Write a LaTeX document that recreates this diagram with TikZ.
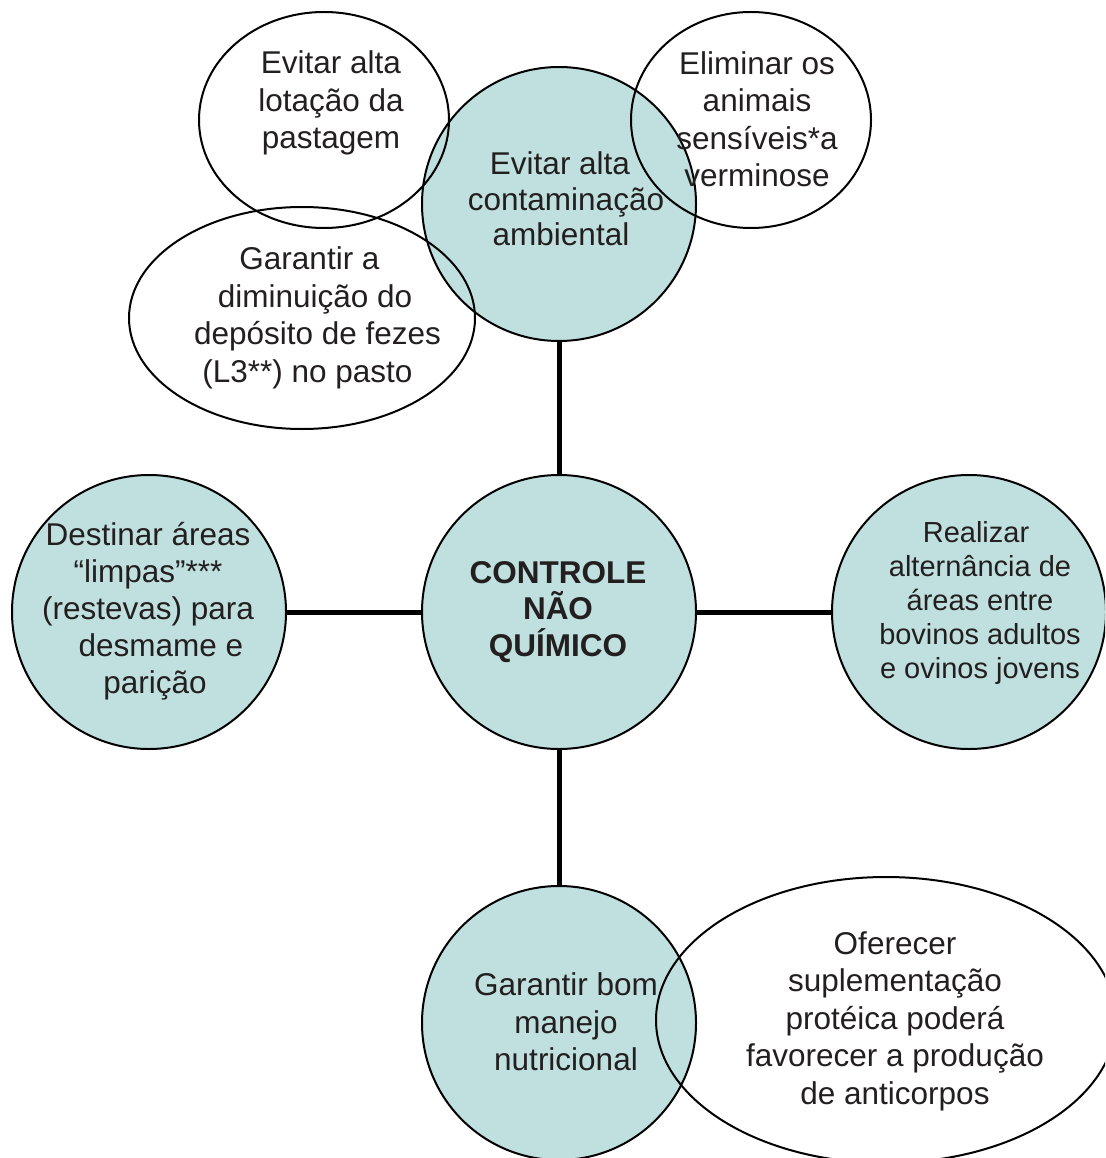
\documentclass[tikz,border=0pt]{standalone}
\usepackage{fontspec}
\setmainfont{Liberation Sans}
\usetikzlibrary{shapes.geometric}
\definecolor{tealfill}{RGB}{191,224,222}
\definecolor{ink}{RGB}{35,31,32}
\begin{document}
\begin{tikzpicture}[x=1pt,y=-1pt,
  disc/.style={circle,draw=black,line width=2pt,fill=tealfill,minimum size=274pt,inner sep=0pt},
  oval/.style={ellipse,draw=black,line width=2pt,inner sep=0pt},
  txt/.style={text=ink,align=center,font=\fontsize{31.5}{37.5}\selectfont,inner sep=0pt},
  smalltxt/.style={text=ink,align=center,font=\fontsize{29}{34}\selectfont,inner sep=0pt},
  link/.style={line width=5pt,draw=black}]
\useasboundingbox (0,0) rectangle (1105,1158);
\clip (0,0) rectangle (1105,1158);
% teal circles
\node[disc] (top) at (559,204) {};
\node[disc] (ctr) at (559,612) {};
\node[disc] (lft) at (149,612) {};
\node[disc] (rgt) at (969,612) {};
\node[disc] (bot) at (559,1023) {};
% connectors
\draw[link] (top) -- (ctr);
\draw[link] (ctr) -- (bot);
\draw[link] (lft) -- (ctr);
\draw[link] (ctr) -- (rgt);
% white ellipses
\node[oval,minimum width=250pt,minimum height=216pt] (lot) at (324,120) {};
\node[oval,minimum width=240pt,minimum height=216pt] (eli) at (751,120) {};
\node[oval,minimum width=346pt,minimum height=222pt] (gar) at (302,318) {};
\node[oval,minimum width=460pt,minimum height=286pt] (ofe) at (886,1020) {};
% texts
\node[txt,font=\fontsize{31.5}{35.5}\selectfont] (ttop) at (566,199) {Evitar alta\hspace*{12pt}\\contaminação\\ambiental\hspace*{10pt}};
\node[txt,font=\fontsize{31.5}{36.5}\selectfont\bfseries] (tctr) at (558,612) {CONTROLE\\NÃO\\QUÍMICO};
\node[txt,font=\fontsize{31.5}{37}\selectfont] (tlft) at (148,611) {Destinar áreas\\“limpas”***\hspace*{14pt}\\(restevas) para\hspace*{6pt}\\\hspace*{26pt}desmame e\\\hspace*{14pt}parição};
\node[smalltxt] (trgt) at (980,603) {Realizar\hspace*{8pt}\\alternância de\\áreas entre\\bovinos adultos\\e ovinos jovens};
\node[txt] (tbot) at (566,1022) {Garantir bom\\manejo\\nutricional};
\node[txt] (tlot) at (331,103) {Evitar alta\\lotação da\\pastagem};
\node[txt] (teli) at (757,119) {Eliminar os\\animais\\sensíveis*a\\verminose};
\node[txt] (tgar) at (315,318) {Garantir a\hspace*{11pt}\\diminuição do\hspace*{6pt}\\\hspace*{5pt}depósito de fezes\\(L3**) no pasto\hspace*{15pt}};
\node[txt] (tofe) at (895,1021) {Oferecer\\suplementação\\protéica poderá\\favorecer a produção\\de anticorpos};
\end{tikzpicture}
\end{document}
